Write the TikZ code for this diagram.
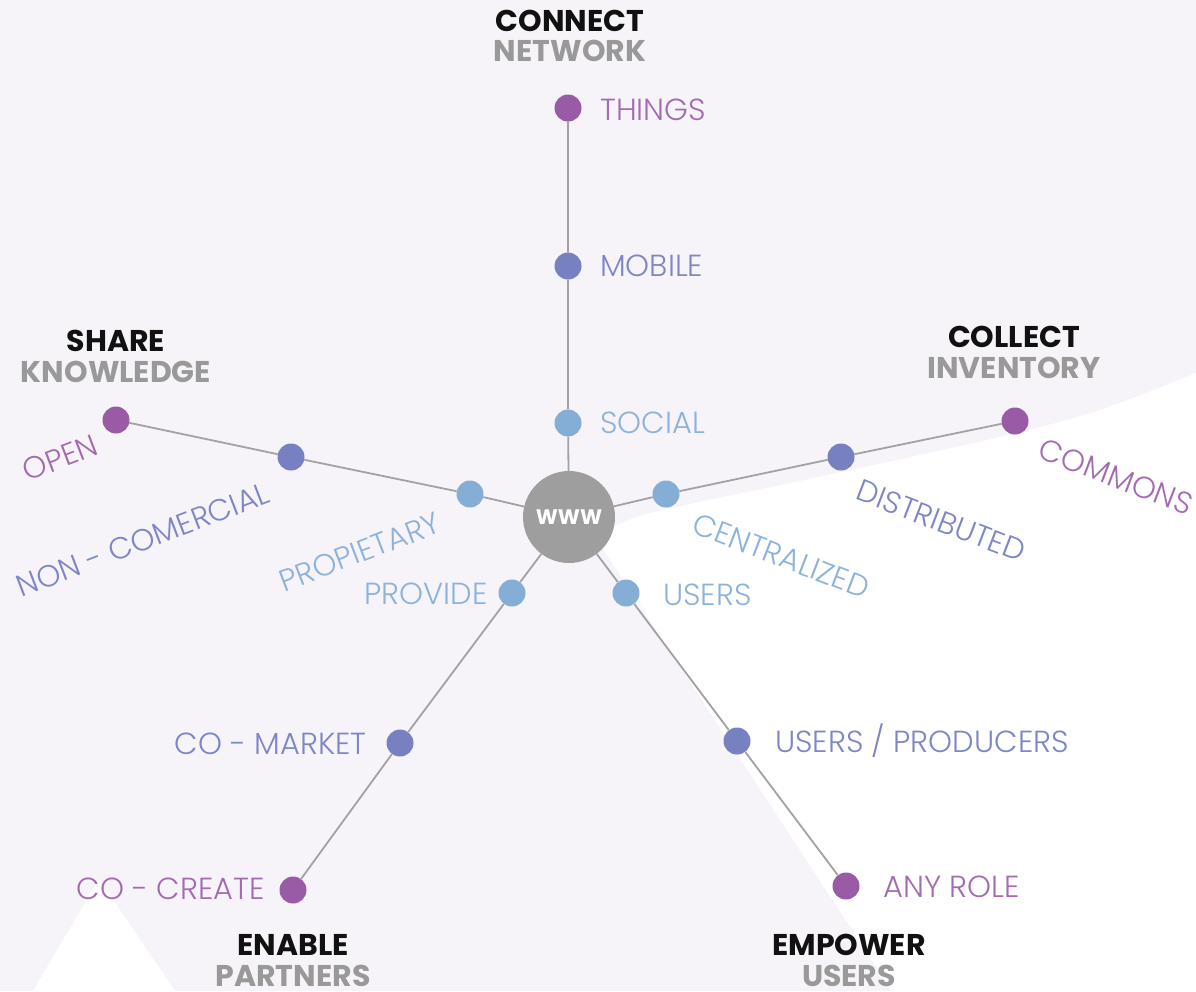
\documentclass[tikz,border=0pt]{standalone}
\usepackage{fontspec}
\setmainfont{Poppins}
\newfontfamily\lightf{Poppins Light}
\definecolor{bgl}{HTML}{F6F4F9}
\definecolor{pur}{HTML}{9A5BA6}
\definecolor{purt}{HTML}{A46CB0}
\definecolor{mid}{HTML}{7780C0}
\definecolor{midt}{HTML}{7D86C6}
\definecolor{lb}{HTML}{85AED6}
\definecolor{lbt}{HTML}{8DB3DA}
\definecolor{ln}{HTML}{A2A2A2}
\definecolor{hub}{HTML}{9E9E9E}
\definecolor{hg}{HTML}{999999}
\definecolor{hk}{HTML}{111111}
\pgfdeclarelayer{bg}
\pgfsetlayers{bg,main}
\tikzset{
  dot/.style={circle, minimum size=27pt, inner sep=0pt},
  dpur/.style={dot, fill=pur},
  dmid/.style={dot, fill=mid},
  dlb/.style={dot, fill=lb},
  lab/.style={font=\lightf\fontsize{30.5}{30.5}\selectfont, inner sep=0pt, text height=21pt, text depth=0pt},
  tpur/.style={lab, text=purt},
  tmid/.style={lab, text=midt},
  tlb/.style={lab, text=lbt},
  hdk/.style={font=\bfseries\fontsize{30}{30}\selectfont, inner sep=0pt, text height=21pt, text depth=0pt, text=hk},
  hdg/.style={font=\bfseries\fontsize{30}{30}\selectfont, inner sep=0pt, text height=21pt, text depth=0pt, text=hg},
  link/.style={draw=ln, line width=1.8pt}
}
\begin{document}
\begin{tikzpicture}[x=1pt,y=-1pt]
\useasboundingbox (0,0) rectangle (1196,991);
% hub
\node[circle, fill=hub, minimum size=92pt, inner sep=0pt, text=white, font=\bfseries\fontsize{21}{21}\selectfont] (www) at (569,517) {WWW};
% dots
\node[dpur] (things) at (568,108) {};
\node[dmid] (mobile) at (568,266) {};
\node[dlb] (social) at (568,423) {};
\node[dpur] (open) at (116,420) {};
\node[dmid] (noncom) at (291,457) {};
\node[dlb] (prop) at (470,494) {};
\node[dpur] (commons) at (1015,421) {};
\node[dmid] (distr) at (841,457) {};
\node[dlb] (central) at (666,494) {};
\node[dpur] (cocreate) at (293,890) {};
\node[dmid] (comarket) at (400,743) {};
\node[dlb] (provide) at (512,593) {};
\node[dpur] (anyrole) at (846,886) {};
\node[dmid] (userprod) at (737,741) {};
\node[dlb] (users) at (626,593) {};
% labels
\node[tpur, anchor=west] (lthings) at (600,110) {THINGS};
\node[tmid, anchor=west] (lmobile) at (600,266) {MOBILE};
\node[tlb, anchor=west] (lsocial) at (600,423) {SOCIAL};
\node[tlb, anchor=east] (lprovide) at (488,594) {PROVIDE};
\node[tlb, anchor=west] (lusers) at (663,595) {USERS};
\node[tmid, anchor=east] (lcomarket) at (367,744) {CO - MARKET};
\node[tmid, anchor=west] (luserprod) at (775,742) {USERS / PRODUCERS};
\node[tpur, anchor=east] (lcocreate) at (265,889) {CO - CREATE};
\node[tpur, anchor=west] (lanyrole) at (883,887) {ANY ROLE};
\node[tpur, rotate=21] (lopen) at (60,458) {OPEN};
\node[tmid, rotate=21] (lnoncom) at (143,540) {NON - COMERCIAL};
\node[tlb, rotate=21] (lprop) at (360,552) {PROPIETARY};
\node[tlb, rotate=-21] (lcentral) at (781,556) {CENTRALIZED};
\node[tmid, rotate=-21] (ldistr) at (941,521) {DISTRIBUTED};
\node[tpur, rotate=-21] (lcommons) at (1116,477) {COMMONS};
% headings
\node[hdk] (h1a) at (570,21) {CONNECT};
\node[hdg] (h1b) at (570,51) {NETWORK};
\node[hdk] (h2a) at (116,341) {SHARE};
\node[hdg] (h2b) at (116,372) {KNOWLEDGE};
\node[hdk] (h3a) at (1014,337) {COLLECT};
\node[hdg] (h3b) at (1014,368) {INVENTORY};
\node[hdk] (h4a) at (293,945) {ENABLE};
\node[hdg] (h4b) at (293,976) {PARTNERS};
\node[hdk] (h5a) at (849,945) {EMPOWER};
\node[hdg] (h5b) at (849,976) {USERS};
\begin{pgfonlayer}{bg}
  \fill[bgl] (0,0) rectangle (1196,991);
  \fill[white] plot[smooth] coordinates {(606,531) (650,513) (800,481) (1000,437) (1100,410) (1196,373)}
     -- (1196,991) -- (892,991) -- (603,549) -- cycle;
  \fill[white] (33,991) -- (99,879) -- (175,991) -- cycle;
  \draw[link] (www) -- (social) -- (mobile) -- (things);
  \draw[link] (www) -- (prop) -- (noncom) -- (open);
  \draw[link] (www) -- (central) -- (distr) -- (commons);
  \draw[link] (www) -- (provide) -- (comarket) -- (cocreate);
  \draw[link] (www) -- (users) -- (userprod) -- (anyrole);
\end{pgfonlayer}
\end{tikzpicture}
\end{document}
